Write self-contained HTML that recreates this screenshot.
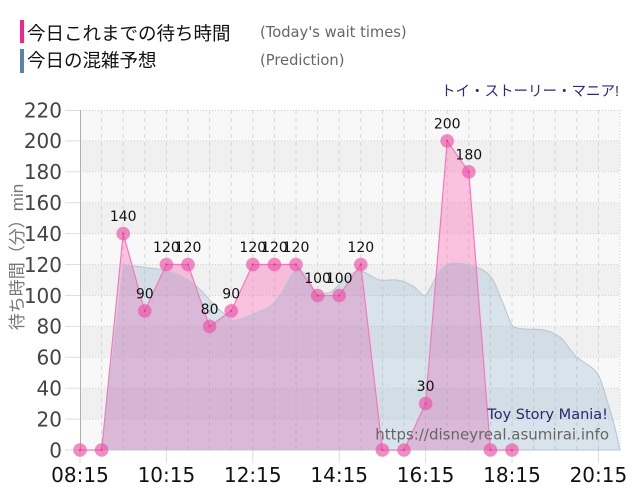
<!DOCTYPE html>
<html><head><meta charset="utf-8">
<style>
html,body{margin:0;padding:0;background:#fff;}
svg{display:block;}
.cjk{font-family:"Liberation Sans","Noto Sans CJK JP",sans-serif;}
.dv{font-family:"DejaVu Sans","Liberation Sans",sans-serif;}
</style></head>
<body>
<svg width="640" height="500" viewBox="0 0 640 500" xmlns="http://www.w3.org/2000/svg">
<rect x="0" y="0" width="640" height="500" fill="#ffffff"/>

<!-- legend -->
<rect x="20" y="20" width="4" height="23" fill="#f2248e"/>
<rect x="20" y="49" width="4" height="24" fill="#5b82ad"/>
<text x="27" y="40" class="cjk" font-size="18.5" fill="#111">今日これまでの待ち時間</text>
<text x="27" y="67" class="cjk" font-size="18.5" fill="#111">今日の混雑予想</text>
<text x="260" y="37" class="dv" font-size="14.7" fill="#666">(Today's wait times)</text>
<text x="260" y="65" class="dv" font-size="14.7" fill="#666">(Prediction)</text>
<text x="619" y="96" text-anchor="end" class="cjk" font-size="14.5" fill="#2b2b7a">トイ・ストーリー・マニア!</text>

<!-- plot bands -->
<g>
<rect x="80" y="110" width="540" height="30.9" fill="#f8f8f8"/>
<rect x="80" y="140.9" width="540" height="30.9" fill="#f0f0f0"/>
<rect x="80" y="171.8" width="540" height="30.9" fill="#f8f8f8"/>
<rect x="80" y="202.7" width="540" height="30.9" fill="#f0f0f0"/>
<rect x="80" y="233.6" width="540" height="30.9" fill="#f8f8f8"/>
<rect x="80" y="264.5" width="540" height="31" fill="#f0f0f0"/>
<rect x="80" y="295.5" width="540" height="30.9" fill="#f8f8f8"/>
<rect x="80" y="326.4" width="540" height="30.9" fill="#f0f0f0"/>
<rect x="80" y="357.3" width="540" height="30.9" fill="#f8f8f8"/>
<rect x="80" y="388.2" width="540" height="30.9" fill="#f0f0f0"/>
<rect x="80" y="419.1" width="540" height="30.9" fill="#f8f8f8"/>
</g>

<!-- horizontal dotted grid -->
<g stroke="#cfcfcf" stroke-width="1" stroke-dasharray="1,2">
<line x1="80" y1="110.5" x2="620" y2="110.5"/>
<line x1="80" y1="140.9" x2="620" y2="140.9"/>
<line x1="80" y1="171.8" x2="620" y2="171.8"/>
<line x1="80" y1="202.7" x2="620" y2="202.7"/>
<line x1="80" y1="233.6" x2="620" y2="233.6"/>
<line x1="80" y1="264.5" x2="620" y2="264.5"/>
<line x1="80" y1="295.5" x2="620" y2="295.5"/>
<line x1="80" y1="326.4" x2="620" y2="326.4"/>
<line x1="80" y1="357.3" x2="620" y2="357.3"/>
<line x1="80" y1="388.2" x2="620" y2="388.2"/>
<line x1="80" y1="419.1" x2="620" y2="419.1"/>
<line x1="80" y1="450" x2="620" y2="450"/>
</g>
<!-- y ticks -->
<g stroke="#dddddd" stroke-width="1">
<line x1="65" y1="110.5" x2="80" y2="110.5"/>
<line x1="65" y1="140.9" x2="80" y2="140.9"/>
<line x1="65" y1="171.8" x2="80" y2="171.8"/>
<line x1="65" y1="202.7" x2="80" y2="202.7"/>
<line x1="65" y1="233.6" x2="80" y2="233.6"/>
<line x1="65" y1="264.5" x2="80" y2="264.5"/>
<line x1="65" y1="295.5" x2="80" y2="295.5"/>
<line x1="65" y1="326.4" x2="80" y2="326.4"/>
<line x1="65" y1="357.3" x2="80" y2="357.3"/>
<line x1="65" y1="388.2" x2="80" y2="388.2"/>
<line x1="65" y1="419.1" x2="80" y2="419.1"/>
<line x1="65" y1="450" x2="80" y2="450"/>
</g>

<!-- vertical dashed grid -->
<g stroke="#d6d6d6" stroke-width="1" stroke-dasharray="4,4">
<line x1="101.6" y1="110" x2="101.6" y2="450"/>
<line x1="123.2" y1="110" x2="123.2" y2="450"/>
<line x1="144.8" y1="110" x2="144.8" y2="450"/>
<line x1="166.4" y1="110" x2="166.4" y2="450"/>
<line x1="188" y1="110" x2="188" y2="450"/>
<line x1="209.6" y1="110" x2="209.6" y2="450"/>
<line x1="231.2" y1="110" x2="231.2" y2="450"/>
<line x1="252.8" y1="110" x2="252.8" y2="450"/>
<line x1="274.4" y1="110" x2="274.4" y2="450"/>
<line x1="296" y1="110" x2="296" y2="450"/>
<line x1="317.6" y1="110" x2="317.6" y2="450"/>
<line x1="339.2" y1="110" x2="339.2" y2="450"/>
<line x1="360.8" y1="110" x2="360.8" y2="450"/>
<line x1="382.4" y1="110" x2="382.4" y2="450"/>
<line x1="404" y1="110" x2="404" y2="450"/>
<line x1="425.6" y1="110" x2="425.6" y2="450"/>
<line x1="447.2" y1="110" x2="447.2" y2="450"/>
<line x1="468.8" y1="110" x2="468.8" y2="450"/>
<line x1="490.4" y1="110" x2="490.4" y2="450"/>
<line x1="512" y1="110" x2="512" y2="450"/>
<line x1="533.6" y1="110" x2="533.6" y2="450"/>
<line x1="555.2" y1="110" x2="555.2" y2="450"/>
<line x1="576.8" y1="110" x2="576.8" y2="450"/>
<line x1="598.4" y1="110" x2="598.4" y2="450"/>
</g>
<line x1="620" y1="110" x2="620" y2="450" stroke="#cfcfcf" stroke-dasharray="1,2"/>

<!-- x ticks -->
<g stroke="#dddddd" stroke-width="1">
<line x1="80" y1="450" x2="80" y2="463"/>
<line x1="166.4" y1="450" x2="166.4" y2="463"/>
<line x1="252.8" y1="450" x2="252.8" y2="463"/>
<line x1="339.2" y1="450" x2="339.2" y2="463"/>
<line x1="425.6" y1="450" x2="425.6" y2="463"/>
<line x1="512" y1="450" x2="512" y2="463"/>
<line x1="598.4" y1="450" x2="598.4" y2="463"/>
</g>

<!-- pink area -->
<polygon fill="rgba(255,100,180,0.36)" points="80,450 101.6,450 123.2,233.6 144.8,310.9 166.4,264.5 188,264.5 209.6,326.4 231.2,310.9 252.8,264.5 274.4,264.5 296,264.5 317.6,295.5 339.2,295.5 360.8,264.5 382.4,450 404,450 425.6,403.6 447.2,140.9 468.8,171.8 490.4,450 512,450"/>

<!-- gray prediction area -->
<path fill="rgba(105,155,190,0.22)" stroke="#b7c6d1" stroke-width="1" d="M80,450 L102,450 L123.2,264.5 C130,265 140,267 146,267.6 C155,268.5 162,269.5 167,270.7 C176,273 184,277 190,281.5 C197,286 202,291 207,297 C213,304 218,309 223,312.5 C227,316 229,319 232,320.2 C238,321 244,318 250,315.5 C257,312 264,310 270,306.3 C276,302 279,296 283,290.8 C288,282 292,271 297,269.2 C300,268.5 302,271 305,273.8 C309,279 313,290 317,293.9 C321,296 326,293 330,292.4 C336,290 341,281 347,276.9 C352,273 356,270.5 360,270.7 C367,272 374,279 380,280 C386,281 392,279 397,280 C403,281 408,283 413,286.2 C418,289 421,296 425,295.5 C430,292 435,276 440,270.7 C444,266 448,263 453,263 C460,263 467,264 473,266.1 C481,268 488,272 493,280 C497,287 499,295 503,303.2 C507,312 509,322 513,326.4 C520,330 532,329 540,329.5 C548,330 554,333 560,337.2 C566,342 571,352 577,357.3 C584,363 592,366 597,372.7 C601,379 604,390 607,400.5 C612,415 617,435 620,450 Z"/>

<!-- left axis -->
<line x1="80.5" y1="110" x2="80.5" y2="450" stroke="#b0b0b0" stroke-width="1"/>

<!-- pink line -->
<polyline fill="none" stroke="#f27ab9" stroke-width="1.2" points="80,450 101.6,450 123.2,233.6 144.8,310.9 166.4,264.5 188,264.5 209.6,326.4 231.2,310.9 252.8,264.5 274.4,264.5 296,264.5 317.6,295.5 339.2,295.5 360.8,264.5 382.4,450 404,450 425.6,403.6 447.2,140.9 468.8,171.8 490.4,450 512,450"/>

<!-- markers -->
<g fill="rgba(235,80,165,0.65)">
<circle cx="80" cy="450" r="6.8"/>
<circle cx="101.6" cy="450" r="6.8"/>
<circle cx="123.2" cy="233.6" r="6.8"/>
<circle cx="144.8" cy="310.9" r="6.8"/>
<circle cx="166.4" cy="264.5" r="6.8"/>
<circle cx="188" cy="264.5" r="6.8"/>
<circle cx="209.6" cy="326.4" r="6.8"/>
<circle cx="231.2" cy="310.9" r="6.8"/>
<circle cx="252.8" cy="264.5" r="6.8"/>
<circle cx="274.4" cy="264.5" r="6.8"/>
<circle cx="296" cy="264.5" r="6.8"/>
<circle cx="317.6" cy="295.5" r="6.8"/>
<circle cx="339.2" cy="295.5" r="6.8"/>
<circle cx="360.8" cy="264.5" r="6.8"/>
<circle cx="382.4" cy="450" r="6.8"/>
<circle cx="404" cy="450" r="6.8"/>
<circle cx="425.6" cy="403.6" r="6.8"/>
<circle cx="447.2" cy="140.9" r="6.8"/>
<circle cx="468.8" cy="171.8" r="6.8"/>
<circle cx="490.4" cy="450" r="6.8"/>
<circle cx="512" cy="450" r="6.8"/>
</g>
<g fill="#e0309a">
<circle cx="80" cy="450" r="1"/><circle cx="101.6" cy="450" r="1"/><circle cx="123.2" cy="233.6" r="1"/>
<circle cx="144.8" cy="310.9" r="1"/><circle cx="166.4" cy="264.5" r="1"/><circle cx="188" cy="264.5" r="1"/>
<circle cx="209.6" cy="326.4" r="1"/><circle cx="231.2" cy="310.9" r="1"/><circle cx="252.8" cy="264.5" r="1"/>
<circle cx="274.4" cy="264.5" r="1"/><circle cx="296" cy="264.5" r="1"/><circle cx="317.6" cy="295.5" r="1"/>
<circle cx="339.2" cy="295.5" r="1"/><circle cx="360.8" cy="264.5" r="1"/><circle cx="382.4" cy="450" r="1"/>
<circle cx="404" cy="450" r="1"/><circle cx="425.6" cy="403.6" r="1"/><circle cx="447.2" cy="140.9" r="1"/>
<circle cx="468.8" cy="171.8" r="1"/><circle cx="490.4" cy="450" r="1"/><circle cx="512" cy="450" r="1"/>
</g>

<!-- data labels -->
<g class="dv" font-size="14" fill="#111" text-anchor="middle">
<text x="123.2" y="221">140</text>
<text x="144.8" y="298.4">90</text>
<text x="166.4" y="252">120</text>
<text x="188" y="252">120</text>
<text x="209.6" y="313.9">80</text>
<text x="231.2" y="298.4">90</text>
<text x="252.8" y="252">120</text>
<text x="274.4" y="252">120</text>
<text x="296" y="252">120</text>
<text x="317.6" y="283">100</text>
<text x="339.2" y="283">100</text>
<text x="360.8" y="252">120</text>
<text x="425.6" y="391.1">30</text>
<text x="447.2" y="128.4">200</text>
<text x="468.8" y="159.3">180</text>
</g>

<!-- y tick labels -->
<g class="dv" font-size="20" fill="#444" text-anchor="end">
<text x="62" y="117.3">220</text>
<text x="62" y="148.2">200</text>
<text x="62" y="179.1">180</text>
<text x="62" y="210">160</text>
<text x="62" y="240.9">140</text>
<text x="62" y="271.8">120</text>
<text x="62" y="302.8">100</text>
<text x="62" y="333.7">80</text>
<text x="62" y="364.6">60</text>
<text x="62" y="395.5">40</text>
<text x="62" y="426.4">20</text>
<text x="62" y="457.3">0</text>
</g>

<!-- x tick labels -->
<g class="dv" font-size="20" fill="#111" text-anchor="middle">
<text x="80" y="482">08:15</text>
<text x="166.4" y="482">10:15</text>
<text x="252.8" y="482">12:15</text>
<text x="339.2" y="482">14:15</text>
<text x="425.6" y="482">16:15</text>
<text x="512" y="482">18:15</text>
<text x="598.4" y="482">20:15</text>
</g>

<!-- y axis title -->
<text transform="translate(23,257) rotate(-90)" text-anchor="middle" class="cjk" font-size="17" fill="#777">待ち時間（分）min</text>

<!-- watermark -->
<text x="608" y="419" text-anchor="end" class="dv" font-size="14.5" fill="#2a2a6e">Toy Story Mania!</text>
<text x="609" y="439.5" text-anchor="end" class="dv" font-size="15" fill="#666">https://disneyreal.asumirai.info</text>
</svg>
</body></html>
